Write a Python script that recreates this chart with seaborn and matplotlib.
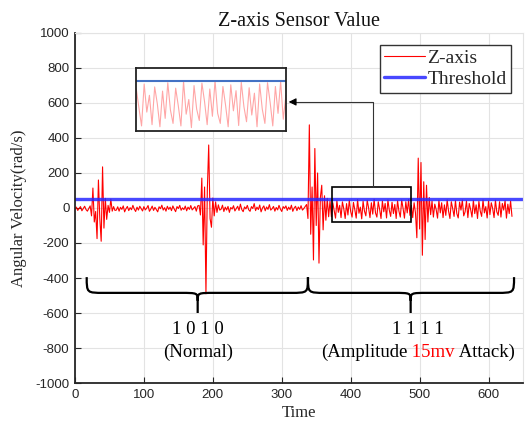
import numpy as np
import pandas as pd
import seaborn as sns
import matplotlib
matplotlib.use('Agg')
from matplotlib import pyplot as plt
from matplotlib.path import Path
from matplotlib.patches import PathPatch, Rectangle

# sensor samples, one every 2 time units
sample_step = 2

# t = 0 .. 334 : bits 1 0 1 0 (normal)
z_normal = [
    -8, 5, -14, -2, 8, -16, -3, 10, -9, -18,
    -3, 12, -45, 114, -80, -20, -175, 160, -60, -190,
    235, -115, 55, -65, 15, -25, 50, -18, 8, -14,
    -12, 7, -18, 4, -8, 12, -22, -4, 9, -15,
    2, -10, 15, -6, -20, 5, -12, 10, -3, -17,
    8, -11, -1, 14, -19, -6, 11, -14, 4, -9,
    -22, 7, -4, 16, -12, 2, -18, 10, -8, 5,
    -15, 12, -6, -21, 8, -3, 15, -13, 1, -9,
    11, -16, 5, -8, 14, -11, -2, 8, -18, 12,
    15, -40, 171, -211, 120, -490, 100, 360, -60, -110,
    57, -45, 35, -25, 18, -12,
    -7, 16, -20, 5, -12, 9, -25, 3, -6, 13,
    -17, -3, 10, -14, 22, -9, -21, 6, -5, 15,
    -10, -19, 8, -3, 25, -15, 5, -9, 17, -22,
    0, 12, -16, 6, -8, 19, -12, -4, 9, -18,
    3, -11, 15, -6, -20, 8, -2, 12, -14, 5,
    -9, 16, -19, 0, 10, -15, 6, -8, 13, -12,
    -3, 8,
]

# t = 336 .. 634 : bits 1 1 1 1 (amplitude 15mv attack)
z_attack = [
    20, -60, 475, -150, 120, -297, 340, -100, 200, -315,
    60, 130, -125, 70, -70, 55, -50, 40,
    -50, 30, -15, -58, 42, -25, 15, -55, 35, -5,
    -60, 25, -40, 45, -20, -52, 32, -10, -58, 48,
    -30, 5, -62, 38, -18, -45, 44, 0, -55, 30,
    -35, 50, -28, -52, 36, -8, -60, 40, -22, 26,
    -57, 46, -12, -48, 33, -32, 20, -60, 42, -18,
    -52, 45, -2, -58, 36, -28, 48, -42, 15, -55,
    30, -28,
    -170, 285, -120, 260, -270, 150, -180, 130, -80, 60,
    -38, 40, -52, 22, -8, -58, 44, -28, 30, -55,
    18, -42, 46, -18, -60, 36, -3, -48, 42, -32,
    -57, 34, -12, 45, -45, -22, 40, -55, 26, -8,
    -52, 44, -32, 18, -60, 38, -18, -48, 46, -28,
    8, -57, 40, -38, 30, -3, -55, 44, -22, -42,
    36, -52, 26, -12, 42, -58, 22, -32, 40, -48,
]

threshold = 50
x_ticks = [0, 100, 200, 300, 400, 500, 600]
y_ticks = [-1000, -800, -600, -400, -200, 0, 200, 400, 600, 800, 1000]

z_values = z_normal + z_attack
df = pd.DataFrame({'Time': np.arange(len(z_values)) * sample_step, 'Z-axis': z_values})

sns.set_style('whitegrid')
plt.rcParams['font.family'] = ['Liberation Sans', 'DejaVu Sans']
plt.rcParams['axes.unicode_minus'] = False
serif = ['Liberation Serif', 'DejaVu Serif']
dark = '#262626'

fig = plt.figure(figsize=(5.27, 4.25), dpi=100)
ax = fig.add_axes([0.1423, 0.0988, 0.8501, 0.8236])

sns.lineplot(data=df, x='Time', y='Z-axis', color='#FF0000', lw=0.8, ax=ax, label='Z-axis')
ax.axhline(threshold, color='#2828FF', lw=2.4, alpha=0.85, label='Threshold')

ax.set_xlim(0, 650)
ax.set_ylim(-1000, 1000)
ax.set_xticks(x_ticks)
ax.set_yticks(y_ticks)
ax.grid(True, color='#E3E3E3', lw=0.8)
ax.tick_params(direction='in', length=4, width=0.8, colors=dark, labelsize=9.5, pad=4)
ax.tick_params(axis='x', bottom=True)
ax.tick_params(axis='y', left=True)
for side in ['left', 'bottom']:
    ax.spines[side].set_color(dark)
    ax.spines[side].set_linewidth(1.3)
for side in ['top', 'right']:
    ax.spines[side].set_color('#E3E3E3')
    ax.spines[side].set_linewidth(0.8)

ax.set_title('Z-axis Sensor Value', fontsize=14.5, family=serif, color='#111111', pad=5)
ax.set_xlabel('Time', fontsize=12, family=serif, color=dark, labelpad=3)
ax.set_ylabel('Angular Velocity(rad/s)', fontsize=12, family=serif, color=dark, labelpad=6)

leg = ax.legend(loc='upper right', prop={'family': serif, 'size': 14}, frameon=True, fancybox=False,
                edgecolor='#333333', framealpha=1, borderpad=0.25, labelspacing=0.15,
                handlelength=2.1, handletextpad=0.1, borderaxespad=0.6)
leg.get_frame().set_linewidth(1.0)

# zoom box over part of the attack section
ax.add_patch(Rectangle((373.5, -80), 114.5, 200, fill=False, edgecolor='black', lw=1.2, zorder=5))
ax.plot([432, 432, 315], [120, 606, 606], color='#333333', lw=0.8, zorder=5)
ax.annotate('', xy=(306, 606), xytext=(322, 606),
            arrowprops=dict(arrowstyle='-|>', color='black', lw=0.8, mutation_scale=11), zorder=5)

# magnified inset
axin = ax.inset_axes([88, 440, 218, 360], transform=ax.transData)
sns.lineplot(data=df, x='Time', y='Z-axis', color='#FF0000', lw=0.8, alpha=0.35, ax=axin, legend=False)
axin.axhline(threshold, color='#4472C4', lw=1.5)
axin.set_xlim(373.5, 488)
axin.set_ylim(-70, 80)
axin.set_xticks([])
axin.set_yticks([])
axin.set_xlabel('')
axin.set_ylabel('')
axin.grid(False)
axin.set_facecolor('white')
for s in axin.spines.values():
    s.set_visible(True)
    s.set_color('#222222')
    s.set_linewidth(1.3)


def brace(x0, x1, xm, y_top=-395, y_mid=-485, y_cusp=-530, y_tip=-600, w=25):
    verts = [(x0, y_top), (x0, y_mid), (x0, y_mid), (x0 + w, y_mid),
             (xm - w, y_mid), (xm, y_mid), (xm, y_mid), (xm, y_cusp),
             (xm, y_tip),
             (xm, y_cusp), (xm, y_mid), (xm, y_mid), (xm + w, y_mid),
             (x1 - w, y_mid), (x1, y_mid), (x1, y_mid), (x1, y_top)]
    codes = [Path.MOVETO, Path.CURVE4, Path.CURVE4, Path.CURVE4,
             Path.LINETO, Path.CURVE4, Path.CURVE4, Path.CURVE4,
             Path.LINETO,
             Path.MOVETO, Path.CURVE4, Path.CURVE4, Path.CURVE4,
             Path.LINETO, Path.CURVE4, Path.CURVE4, Path.CURVE4]
    ax.add_patch(PathPatch(Path(verts, codes), fill=False, edgecolor='black', lw=1.6, zorder=4))


brace(17, 338, 178)
brace(338, 637, 487)

ax.text(178, -697, '1 0 1 0', ha='center', va='center', fontsize=13.5, family=serif, color='black')
ax.text(178, -823, '(Normal)', ha='center', va='center', fontsize=13.5, family=serif, color='black')
ax.text(497, -697, '1 1 1 1', ha='center', va='center', fontsize=13.5, family=serif, color='black')
t1 = ax.text(357, -823, '(Amplitude', ha='left', va='center', fontsize=13.5, family=serif, color='black')
t2 = ax.annotate(' 15mv', xy=(1, 0), xycoords=t1, ha='left', va='bottom', fontsize=13.5, family=serif, color='#FF0000')
ax.annotate(' Attack)', xy=(1, 0), xycoords=t2, ha='left', va='bottom', fontsize=13.5, family=serif, color='black')

fig.savefig('out.png', dpi=100)
